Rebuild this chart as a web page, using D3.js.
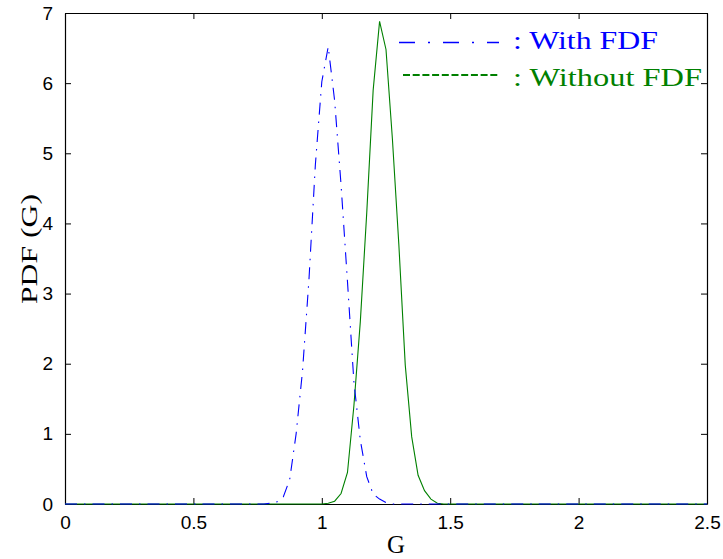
<!DOCTYPE html>
<html>
<head>
<meta charset="utf-8">
<script src="https://cdn.jsdelivr.net/npm/d3@7"></script>
<style>
  html, body { margin: 0; padding: 0; background: #fff; }
  svg { display: block; }
</style>
</head>
<body>
<svg id="chart" width="723" height="559"></svg>
<script>
// ---- data ----
const xTicks = [0, 0.5, 1, 1.5, 2, 2.5];
const xTickLabels = ["0", "0.5", "1", "1.5", "2", "2.5"];
const yTicks = [0, 1, 2, 3, 4, 5, 6, 7];
const yTickLabels = ["0", "1", "2", "3", "4", "5", "6", "7"];

const gWith   = [0, 0.775, 0.8, 0.825, 0.85, 0.875, 0.9, 0.925, 0.95, 0.975, 1.0, 1.025, 1.05, 1.075, 1.1, 1.125, 1.15, 1.175, 1.2, 1.225, 1.25, 1.275, 2.5];
const pdfWith = [0, 0,     0.01, 0.03, 0.1,  0.35,  1.0, 1.9,   3.2,  4.84,  6.02, 6.52, 5.75, 4.55,  3.17, 1.74,  0.91, 0.39,  0.14, 0.07,  0.02, 0,     0];

const gWithout   = [0, 1.0, 1.025, 1.05, 1.075, 1.1, 1.125, 1.15, 1.175, 1.2, 1.225, 1.25, 1.275, 1.3, 1.325, 1.35, 1.375, 1.4, 1.425, 1.45, 1.475, 2.5];
const pdfWithout = [0, 0,   0.01,  0.04, 0.15,  0.45, 1.4,  2.6,  4.15,  5.9, 6.88,  6.48, 5.2,   3.7, 1.98,  0.96, 0.41,  0.19, 0.07,  0.01, 0,     0];

const legendLabels = [": With FDF", ": Without FDF"];
const xLabel = "G";
const yLabel = "PDF (G)";

// ---- layout ----
const svg = d3.select("#chart");
const L = 65, R = 707, T = 13, B = 504;
const x = d3.scaleLinear().domain([0, 2.5]).range([L, R]);
const y = d3.scaleLinear().domain([0, 7]).range([B, T]);

const tickFont = "'Liberation Sans', Arial, sans-serif";
const serif = "'Liberation Serif', 'Times New Roman', serif";

// axes (MATLAB-style box with inward ticks)
const axB = d3.axisBottom(x).tickValues(xTicks).tickFormat((d, i) => xTickLabels[i]).tickSizeInner(-6).tickSizeOuter(0).tickPadding(12);
const axT = d3.axisTop(x).tickValues(xTicks).tickFormat("").tickSizeInner(-6).tickSizeOuter(0);
const axL = d3.axisLeft(y).tickValues(yTicks).tickFormat((d, i) => yTickLabels[i]).tickSizeInner(-6).tickSizeOuter(0).tickPadding(12);
const axR = d3.axisRight(y).tickValues(yTicks).tickFormat("").tickSizeInner(-6).tickSizeOuter(0);

function style(g) {
  g.select(".domain").attr("stroke", "#000").attr("stroke-width", 1.2);
  g.selectAll(".tick line").attr("stroke", "#000").attr("stroke-width", 1);
  g.selectAll(".tick text").attr("fill", "#000").style("font-family", tickFont).style("font-size", "19px");
}
svg.append("g").attr("transform", `translate(0,${B})`).call(axB).call(style);
svg.append("g").attr("transform", `translate(0,${T})`).call(axT).call(style);
svg.append("g").attr("transform", `translate(${L},0)`).call(axL).call(style);
svg.append("g").attr("transform", `translate(${R},0)`).call(axR).call(style);

// curves
const line = d3.line().x(d => x(d[0])).y(d => y(d[1]));
svg.append("path")
  .datum(d3.zip(gWithout, pdfWithout))
  .attr("d", line).attr("fill", "none")
  .attr("stroke", "#008000").attr("stroke-width", 1.1);
svg.append("path")
  .datum(d3.zip(gWith, pdfWith))
  .attr("d", line).attr("fill", "none")
  .attr("stroke", "#0000ff").attr("stroke-width", 1.1)
  .attr("stroke-dasharray", "12,7,1.5,7");

// legend (drawn as line samples + text)
svg.append("line").attr("x1", 399).attr("x2", 499).attr("y1", 42.5).attr("y2", 42.5)
  .attr("stroke", "#0000ff").attr("stroke-width", 1.4).attr("stroke-dasharray", "16,13,2,13");
svg.append("line").attr("x1", 403).attr("x2", 500).attr("y1", 75).attr("y2", 75)
  .attr("stroke", "#008000").attr("stroke-width", 1.8).attr("stroke-dasharray", "7,2.7");
svg.append("text").attr("x", 513).attr("y", 49)
  .attr("fill", "#0000ff").style("font-family", serif).style("font-size", "26px")
  .attr("textLength", 145).attr("lengthAdjust", "spacingAndGlyphs")
  .text(legendLabels[0]);
svg.append("text").attr("x", 513).attr("y", 85.5)
  .attr("fill", "#008000").style("font-family", serif).style("font-size", "26px")
  .attr("textLength", 189).attr("lengthAdjust", "spacingAndGlyphs")
  .text(legendLabels[1]);

// axis titles
svg.append("text").attr("x", 396).attr("y", 553).attr("text-anchor", "middle")
  .style("font-family", serif).style("font-size", "25px").attr("fill", "#000")
  .text(xLabel);
svg.append("text").attr("transform", "translate(37,249) rotate(-90)").attr("text-anchor", "middle")
  .style("font-family", serif).style("font-size", "24px").attr("fill", "#000")
  .attr("textLength", 110).attr("lengthAdjust", "spacingAndGlyphs")
  .text(yLabel);
</script>
</body>
</html>
